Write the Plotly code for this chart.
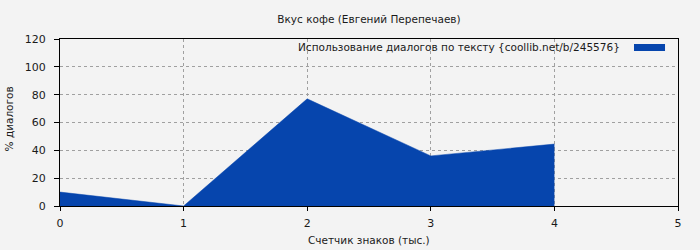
import plotly.graph_objects as go

# Data
x_values = [0, 1, 2, 3, 4]
y_values = [10, 0, 77, 36, 44.5]
series_name = "Использование диалогов по тексту {coollib.net/b/245576}"
chart_title = "Вкус кофе (Евгений Перепечаев)"
x_title = "Счетчик знаков (тыс.)"
y_title = "% диалогов"
x_ticks = [0, 1, 2, 3, 4, 5]
y_ticks = [0, 20, 40, 60, 80, 100, 120]

FILL = "#0645AD"
BG = "#f3f3f3"
FONT = "DejaVu Sans"
TXT = "#1a1a1a"
FS = 10.5

fig = go.Figure()
fig.add_trace(go.Scatter(
    x=x_values, y=y_values, mode="lines", fill="tozeroy",
    line=dict(color=FILL, width=0.5), fillcolor=FILL,
    name=series_name, showlegend=False, hoverinfo="skip",
))

axis_common = dict(ticks="outside", tickcolor="black", showline=True,
                   linecolor="black", linewidth=1, mirror=True, showgrid=True,
                   gridcolor="#a0a0a0", griddash="dot", gridwidth=1,
                   zeroline=False, automargin=False,
                   tickfont=dict(family=FONT, size=11, color=TXT))

fig.update_layout(
    width=700, height=250,
    margin=dict(l=60, r=22, t=39, b=44),
    paper_bgcolor=BG, plot_bgcolor=BG,
    font=dict(family=FONT, size=FS, color=TXT),
    showlegend=False,
    title=dict(text=chart_title, x=0.5, xref="paper", xanchor="center",
               y=1 - 19 / 250, yref="container", yanchor="middle",
               font=dict(family=FONT, size=FS, color=TXT)),
    xaxis=dict(range=[0, 5], tickvals=x_ticks, ticklen=4,
               ticklabelstandoff=3, **axis_common),
    yaxis=dict(range=[0, 120], tickvals=y_ticks, ticklen=5,
               ticklabelstandoff=6, **axis_common),
)

# Axis titles
fig.add_annotation(text=x_title, xref="paper", yref="paper", x=0.5, y=-0.203,
                   xanchor="center", yanchor="middle", showarrow=False,
                   font=dict(family=FONT, size=FS, color=TXT))
fig.add_annotation(text=y_title, xref="paper", yref="paper", x=-0.081, y=0.524,
                   xanchor="center", yanchor="middle", showarrow=False,
                   textangle=-90, font=dict(family=FONT, size=FS, color=TXT))

# Legend drawn as text + swatch (swatch on the right as in the reference)
fig.add_annotation(text=series_name, xref="paper", yref="paper",
                   x=0.9094, y=0.952, xanchor="right", yanchor="middle",
                   showarrow=False, font=dict(family=FONT, size=FS, color=TXT))
fig.add_shape(type="rect", xref="paper", yref="paper",
              x0=0.9288, x1=0.9790, y0=0.928, y1=0.970,
              fillcolor=FILL, line=dict(width=0))

fig.write_html("out.html")
